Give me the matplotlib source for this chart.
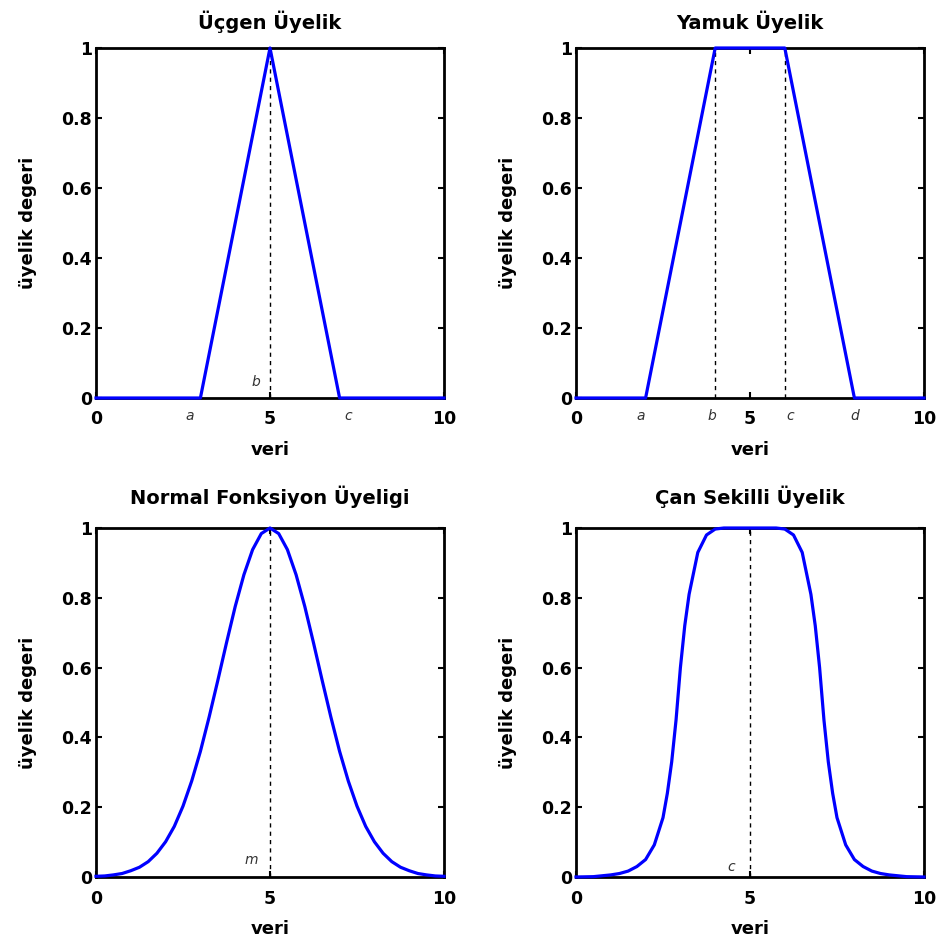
import numpy as np
import matplotlib
matplotlib.use("Agg")
import matplotlib.pyplot as plt

plt.rcParams['font.family'] = ['DejaVu Sans']

# ---- data ----
titles = ["Üçgen Üyelik", "Yamuk Üyelik", "Normal Fonksiyon Üyeligi", "Çan Sekilli Üyelik"]
xlabel_text = "veri"
ylabel_text = "üyelik degeri"
xticks = [0, 5, 10]
xtick_labels = ["0", "5", "10"]
yticks = [0, 0.2, 0.4, 0.6, 0.8, 1]
ytick_labels = ["0", "0.2", "0.4", "0.6", "0.8", "1"]

x_tri = [0, 3, 5, 7, 10]
y_tri = [0, 0, 1, 0, 0]

x_trap = [0, 2, 4, 6, 8, 10]
y_trap = [0, 0, 1, 1, 0, 0]

x_gauss = np.linspace(0, 10, 41)
y_gauss = [0.002, 0.003, 0.006, 0.010, 0.018, 0.028, 0.044, 0.068, 0.101, 0.145,
           0.203, 0.275, 0.360, 0.458, 0.563, 0.671, 0.775, 0.866, 0.938, 0.984,
           1.000,
           0.984, 0.938, 0.866, 0.775, 0.671, 0.563, 0.458, 0.360, 0.275, 0.203,
           0.145, 0.101, 0.068, 0.044, 0.028, 0.018, 0.010, 0.006, 0.003, 0.002]

x_bell = [0.0, 0.5, 1.0, 1.25, 1.5, 1.75, 2.0, 2.25, 2.5, 2.625, 2.75, 2.875,
          3.0, 3.125, 3.25, 3.5, 3.75, 4.0, 4.25,
          5.75, 6.0, 6.25, 6.5, 6.75, 6.875, 7.0, 7.125, 7.25, 7.375, 7.5,
          7.75, 8.0, 8.25, 8.5, 8.75, 9.0, 9.5, 10.0]
y_bell = [0.000, 0.001, 0.006, 0.010, 0.017, 0.030, 0.050, 0.092, 0.170, 0.240,
          0.330, 0.450, 0.600, 0.720, 0.810, 0.930, 0.980, 0.997, 1.000,
          1.000, 0.997, 0.980, 0.930, 0.810, 0.720, 0.600, 0.450, 0.330, 0.240,
          0.170, 0.092, 0.050, 0.030, 0.017, 0.010, 0.006, 0.001, 0.000]

# dashed reference lines (x positions)
tri_dash = [5]
trap_dash = [4, 6]
gauss_dash = [5]
bell_dash = [5]

fig = plt.figure(figsize=(9.39, 9.47), dpi=100)
W, H = 939, 947

def make_ax(left_px, top_px, right_px, bottom_px):
    return fig.add_axes([left_px / W, 1 - bottom_px / H,
                         (right_px - left_px) / W, (bottom_px - top_px) / H])

axes = [make_ax(96, 48, 444, 398), make_ax(576, 48, 924, 398),
        make_ax(96, 528, 444, 877), make_ax(576, 528, 924, 877)]

series = [(x_tri, y_tri, tri_dash), (x_trap, y_trap, trap_dash),
          (x_gauss, y_gauss, gauss_dash), (x_bell, y_bell, bell_dash)]

for i, (ax, title, (xs, ys, dashes)) in enumerate(zip(axes, titles, series)):
    for xd in dashes:
        ax.plot([xd, xd], [0, 1], color='black', linestyle=(0, (3, 3)), linewidth=1.0, zorder=2)
    ax.plot(xs, ys, color='#0000ff', linewidth=2.3, zorder=3, clip_on=False)
    ax.set_xlim(0, 10)
    ax.set_ylim(0, 1)
    ax.set_xticks(xticks)
    ax.set_xticklabels(xtick_labels, fontweight='bold', fontsize=12.5)
    ax.set_yticks(yticks)
    ax.set_yticklabels(ytick_labels, fontweight='bold', fontsize=12.5)
    ax.tick_params(axis='both', direction='in', top=True, right=True, length=4, width=1.5)
    ax.tick_params(axis='x', pad=9)
    ax.tick_params(axis='y', pad=3)
    for sp in ax.spines.values():
        sp.set_linewidth(2.0)
    ax.set_title(title, fontweight='bold', fontsize=14, pad=14 if i < 2 else 17)
    ax.set_xlabel(xlabel_text, fontweight='bold', fontsize=13, labelpad=9)
    ax.set_ylabel(ylabel_text, fontweight='bold', fontsize=13, labelpad=17)

lab = dict(fontstyle='italic', fontsize=10, color='#333333', ha='center', va='center')
# triangle letters
axes[0].text(2.7, -0.05, 'a', clip_on=False, **lab)
axes[0].text(4.6, 0.045, 'b', **lab)
axes[0].text(7.25, -0.05, 'c', clip_on=False, **lab)
# trapezoid letters
for xx, tt in zip([1.85, 3.9, 6.15, 8.0], ['a', 'b', 'c', 'd']):
    axes[1].text(xx, -0.05, tt, clip_on=False, **lab)
# gaussian
axes[2].text(4.45, 0.05, 'm', **lab)
# bell
axes[3].text(4.45, 0.03, 'c', **lab)

fig.savefig('out.png', dpi=100)
